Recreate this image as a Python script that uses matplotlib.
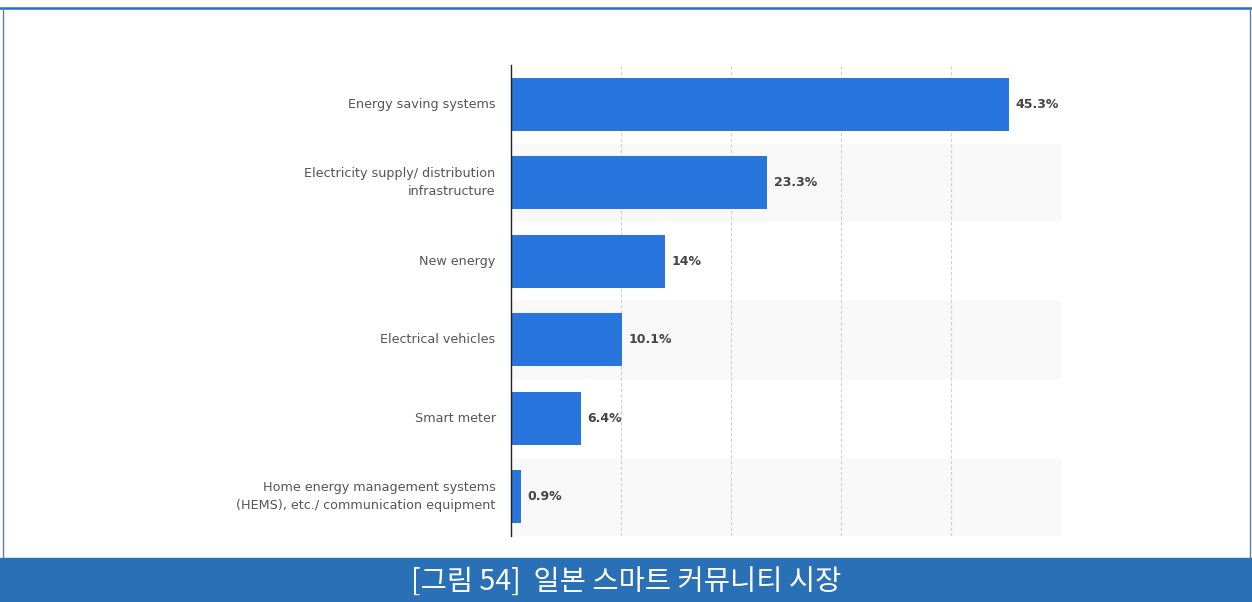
import matplotlib
matplotlib.use("Agg")
import matplotlib.pyplot as plt
from matplotlib.patches import Rectangle
from matplotlib.lines import Line2D

categories = [
    "Energy saving systems",
    "Electricity supply/ distribution\ninfrastructure",
    "New energy",
    "Electrical vehicles",
    "Smart meter",
    "Home energy management systems\n(HEMS), etc./ communication equipment",
]
values = [45.3, 23.3, 14.0, 10.1, 6.4, 0.9]
value_labels = ["45.3%", "23.3%", "14%", "10.1%", "6.4%", "0.9%"]
title = "[그림 54]  일본 스마트 커뮤니티 시장"

W, H = 1252, 602
fig = plt.figure(figsize=(W / 100, H / 100), dpi=100)
fig.patch.set_facecolor("white")

# frame lines
fig.add_artist(Line2D([0, 1], [1 - 8 / H, 1 - 8 / H], color="#2a6fb5", lw=1.8, transform=fig.transFigure))
fig.add_artist(Line2D([3 / W, 3 / W], [0, 1 - 8 / H], color="#5a7fa8", lw=1, transform=fig.transFigure))
fig.add_artist(Line2D([1 - 2 / W, 1 - 2 / W], [0, 1 - 8 / H], color="#5a7fa8", lw=1, transform=fig.transFigure))

# footer band
fig.add_artist(Rectangle((0, 0), 1, 44 / H, transform=fig.transFigure, color="#2a70b6", zorder=5))
fig.text(0.5, 20 / H, title, color="white", fontsize=20.5, ha="center", va="center",
         family=["Noto Sans CJK KR", "DejaVu Sans"], zorder=6)

left, right, top, bottom = 511, 1061, 65, 536
ax = fig.add_axes([left / W, 1 - bottom / H, (right - left) / W, (bottom - top) / H])
n = len(categories)
ax.set_xlim(0, 50)
ax.set_ylim(n - 0.5, -0.5)

for i in range(n):
    if i % 2 == 1:
        ax.axhspan(i - 0.5, i + 0.5, color="#f8f8f8", zorder=0, lw=0)

for x in [10, 20, 30, 40]:
    ax.axvline(x, color="#d0d0d0", lw=0.8, ls=(0, (3, 2)), zorder=1)

ax.barh(range(n), values, height=0.68, color="#2876dd", zorder=2)
for i, (v, lab) in enumerate(zip(values, value_labels)):
    ax.annotate(lab, (v, i), xytext=(4.5, 0), textcoords="offset points", va="center", ha="left",
                fontsize=9, fontweight="semibold", color="#444444")

ax.set_yticks(range(n))
ax.set_yticklabels(categories, fontsize=9.2, color="#555555", ha="right", va="center",
                   linespacing=1.45)
ax.tick_params(axis="y", length=0, pad=11)
ax.set_xticks([])
for s in ["top", "right", "bottom"]:
    ax.spines[s].set_visible(False)
ax.spines["left"].set_color("#222222")
ax.spines["left"].set_linewidth(1)
ax.spines["left"].set_zorder(3)

fig.savefig("out.png", dpi=100)
